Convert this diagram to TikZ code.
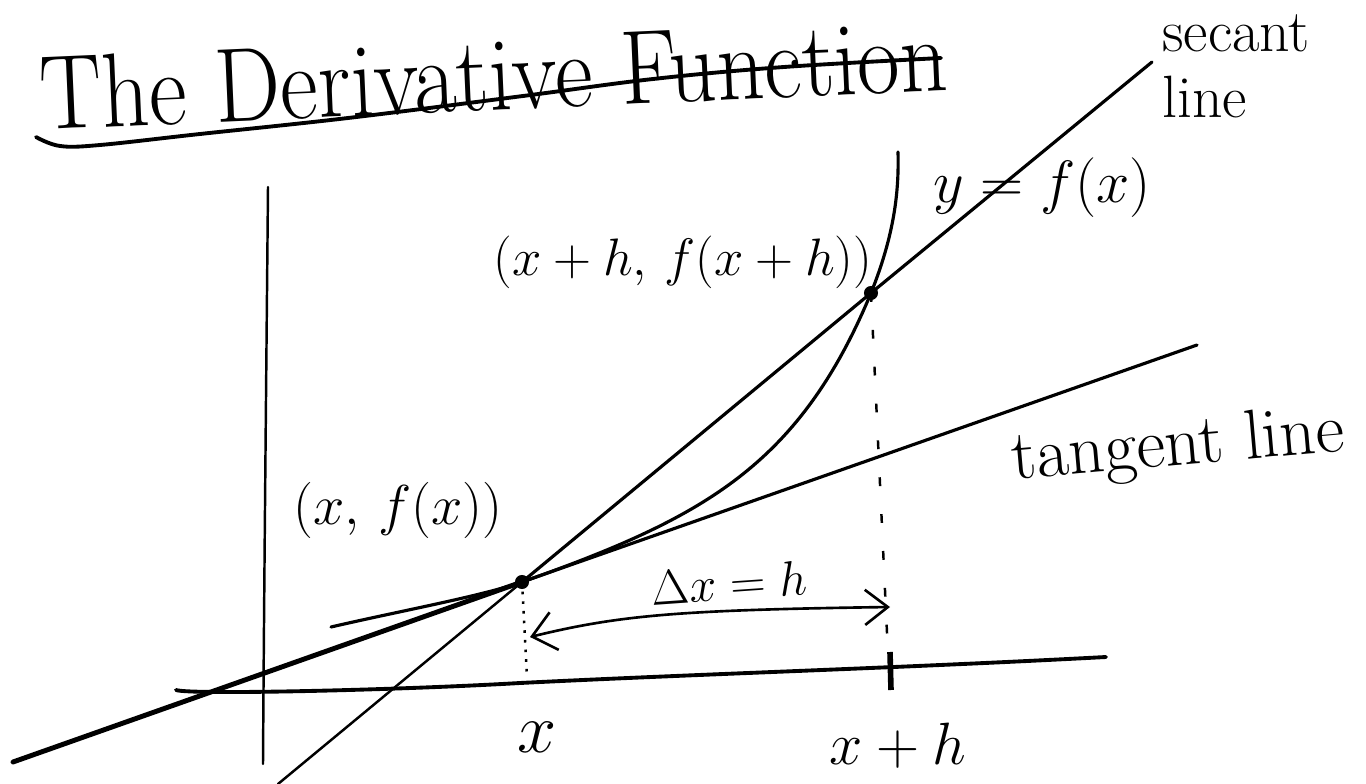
\RequirePackage{fix-cm}
\documentclass[tikz,border=0pt]{standalone}
\usetikzlibrary{arrows.meta}
\newcommand{\fsz}[1]{\fontsize{#1}{#1}\selectfont}
\begin{document}
\begin{tikzpicture}[x=0.02cm, y=-0.02cm,
  ink/.style={line width=1.8pt, line cap=round, line join=round},
  thinink/.style={line width=1.4pt, line cap=round},
  boldink/.style={line width=2.8pt, line cap=round},
  axisink/.style={line width=2.2pt, line cap=round},
  dotpt/.style={circle, fill, inner sep=0pt, minimum size=8pt},
  lbl/.style={inner sep=0pt},
  vguide/.style={line width=1.4pt, dash pattern=on 5pt off 16pt},
  dguide/.style={line width=1.4pt, dash pattern=on 1.5pt off 4pt},
  dblarrow/.style={line width=1.5pt, line cap=round, {Straight Barb[length=13pt,width=22pt]}-{Straight Barb[length=13pt,width=20pt]}}
]
\useasboundingbox (0,0) rectangle (1366,784);

% title with wavy underline
\node[lbl, anchor=base, rotate=2.5, xscale=0.88, font=\fsz{60}] (title) at (495,110) {The Derivative Function};
\draw[axisink] plot[smooth, tension=0.6] coordinates {(36,137) (60,146) (100,145) (200,134) (348,118) (523,96) (653,79) (784,67) (941,58)};

% axes
\coordinate (yTop) at (268,187);
\coordinate (yBot) at (263,764);
\draw[thinink] (yTop) .. controls (266,400) and (264,600) .. (yBot);
\coordinate (xL) at (176,690);
\coordinate (xR) at (1106,657);
\draw[axisink] (xL) .. controls (190,695) and (400,690) .. (520,683) .. controls (700,674) and (900,668) .. (xR);

% the two points
\node[dotpt] (P1) at (522,582) {};
\node[dotpt] (P2) at (871,293) {};

% tangent line
\coordinate (tanLow) at (13,762);
\coordinate (tanHigh) at (1197,345);
\draw[boldink] (tanLow) -- (P1.center);
\draw[ink] (P1.center) -- (tanHigh);

% secant line
\coordinate (secLow) at (278,784);
\coordinate (secHigh) at (1152,62);
\draw[thinink] (secLow) -- (P1.center);
\draw[ink] (P1.center) -- (P2.center) -- (secHigh);

% curve y = f(x)
\coordinate (cL) at (331,627);
\coordinate (cTop) at (898,152);
\draw[ink] (cL) .. controls (400,611) and (482,596) .. (P1.center);
\draw[ink] plot[domain=522:871, samples=80] (\x, {582 - 0.351*(\x-522) - 166.5*(exp(4*(\x-522)/349)-1-4*(\x-522)/349)/49.598});
\draw[ink] (P2.center) .. controls (895,233) and (899,190) .. (cTop);

% guides
\coordinate (g2) at (888,654);
\coordinate (g1) at (527,677);
\draw[vguide] (P2.center) -- (g2);
\draw[dguide] (P1.center) -- (g1);
\coordinate (tickTop) at (890,652);
\coordinate (tickBot) at (891,690);
\draw[line width=3.2pt] (tickTop) -- (tickBot);

% delta x arrow
\coordinate (aL) at (530,637);
\coordinate (aR) at (890,607);
\draw[dblarrow] (aL) .. controls (620,615) and (680,610) .. (aR);

% labels
\node[lbl, font=\fsz{30}] (lP2) at (683,262) {$(x+h,\,f(x+h))$};
\node[lbl, font=\fsz{32}] (lP1) at (398,510) {$(x,\,f(x))$};
\node[lbl, font=\fsz{34}] (lf) at (1042,188) {$y=f(x)$};
\node[lbl, align=left, anchor=north west, font=\fontsize{34}{38}\selectfont] (lsec) at (1162,14) {secant\\line};
\node[lbl, rotate=5, font=\fsz{40}] (ltan) at (1178,448) {tangent line};
\node[lbl, anchor=base, rotate=4, font=\fsz{28}] (ldx) at (730,600) {$\Delta x=h$};
\node[lbl, font=\fsz{40}] (lx) at (537,737) {$x$};
\node[lbl, font=\fsz{34}] (lxh) at (898,746) {$x+h$};
\end{tikzpicture}
\end{document}
